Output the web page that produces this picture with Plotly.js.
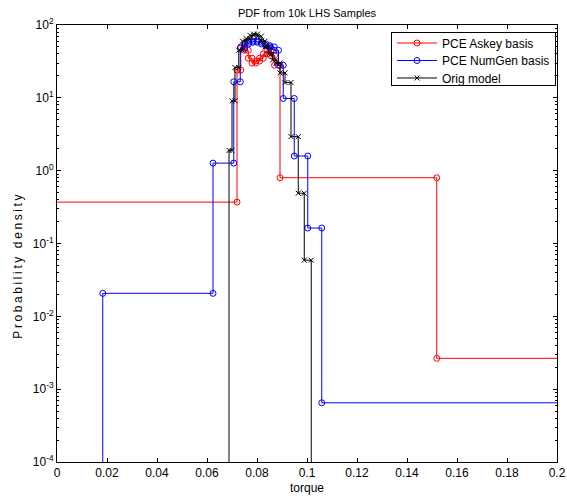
<!DOCTYPE html>
<html>
<head>
<meta charset="utf-8">
<script src="https://cdn.plot.ly/plotly-3.0.1.min.js"></script>
<style>html,body{margin:0;padding:0;background:#fff;}#chart{width:567px;height:499px;}</style>
</head>
<body>
<div id="chart"></div>
<script>
// Histogram-style PDFs: bin edges and densities per series
var askeyEdges = [-0.02, 0.0720, 0.0735, 0.0750, 0.0765, 0.0780, 0.0795, 0.0810, 0.0825, 0.0840, 0.0855, 0.0870, 0.0892, 0.1519, 0.25];
var askeyDens  = [0.37, 24, 50, 45, 35, 30, 32, 35, 40, 45, 38, 28, 0.80, 0.00265];

var numgenEdges = [-0.02, 0.0183, 0.0624, 0.0707, 0.0733, 0.0750, 0.0767, 0.0784, 0.0801, 0.0818, 0.0835, 0.0852, 0.0869, 0.0886, 0.0905, 0.0949, 0.1003, 0.1059, 0.25];
var numgenDens  = [1e-6, 0.0207, 1.27, 16.6, 48, 55, 58, 60, 58, 55, 52, 50, 45, 28, 9.8, 1.59, 0.163, 0.00065];

var origEdges = [-0.02, 0.0688, 0.0700, 0.0712, 0.0727, 0.0742, 0.0757, 0.0772, 0.0787, 0.0802, 0.0817, 0.0832, 0.0847, 0.0862, 0.0877, 0.0892, 0.0912, 0.0936, 0.0965, 0.0989, 0.1017, 0.25];
var origDens  = [1e-6, 1.9, 9.1, 26, 45, 60, 65, 72, 75, 70, 60, 50, 40, 33, 30, 22, 16.2, 2.93, 0.49, 0.059, 1e-6];

var xTicks = [0, 0.02, 0.04, 0.06, 0.08, 0.1, 0.12, 0.14, 0.16, 0.18, 0.2];
var xTickText = ['0', '0.02', '0.04', '0.06', '0.08', '0.1', '0.12', '0.14', '0.16', '0.18', '0.2'];
var yExponents = [-4, -3, -2, -1, 0, 1, 2];

var yTicks = yExponents.map(function (e) { return Math.pow(10, e); });
var yTickText = yExponents.map(function (e) { return '10<sup>' + e + '</sup>'; });
var yMinor = [];
for (var e = -4; e < 2; e++) {
  for (var k = 2; k <= 9; k++) yMinor.push(k * Math.pow(10, e));
}

function steps(edges, dens) {
  var x = [], y = [];
  for (var i = 0; i < dens.length; i++) {
    x.push(edges[i], edges[i + 1]);
    y.push(dens[i], dens[i]);
  }
  return {x: x, y: y};
}

var a = steps(askeyEdges, askeyDens);
var n = steps(numgenEdges, numgenDens);
var o = steps(origEdges, origDens);

var traces = [
  {x: a.x, y: a.y, name: 'PCE Askey basis', type: 'scatter', mode: 'lines+markers',
   line: {color: '#ff0000', width: 1}, marker: {symbol: 'circle-open', size: 6, color: '#ff0000', line: {width: 1}}},
  {x: n.x, y: n.y, name: 'PCE NumGen basis', type: 'scatter', mode: 'lines+markers',
   line: {color: '#0000ff', width: 1}, marker: {symbol: 'circle-open', size: 6, color: '#0000ff', line: {width: 1}}},
  {x: o.x, y: o.y, name: 'Orig model', type: 'scatter', mode: 'lines+markers',
   line: {color: '#000000', width: 1}, marker: {symbol: 'x-thin-open', size: 5, color: '#000000', line: {width: 1, color: '#000000'}}}
];

var fam = 'Liberation Sans, Arial, sans-serif';
var font = {family: fam, size: 12, color: '#000'};

var layout = {
  width: 567, height: 499,
  margin: {l: 57, r: 10, t: 25, b: 37, pad: 0},
  paper_bgcolor: '#fff', plot_bgcolor: '#fff',
  font: font,
  showlegend: true,
  title: {text: 'PDF from 10k LHS Samples', font: {family: fam, size: 11, color: '#000'}, x: 0.5, xanchor: 'center', xref: 'paper', y: 0.974, yanchor: 'middle'},
  xaxis: {
    range: [0, 0.2], tickmode: 'array', tickvals: xTicks, ticktext: xTickText,
    ticks: 'inside', ticklen: 4, tickcolor: '#000', showline: true, linecolor: '#000', linewidth: 1,
    mirror: 'ticks', showgrid: false, zeroline: false,
    title: {text: 'torque', font: font, standoff: 4},
    tickfont: font
  },
  yaxis: {
    type: 'log', range: [-4, 2], tickmode: 'array', tickvals: yTicks, ticktext: yTickText,
    ticks: 'inside', ticklen: 4, tickcolor: '#000', showline: true, linecolor: '#000', linewidth: 1,
    mirror: 'ticks', showgrid: false, zeroline: false,
    minor: {tickmode: 'array', tickvals: yMinor, ticks: 'inside', ticklen: 2, tickcolor: '#000', showgrid: false},
    tickfont: font
  },
  annotations: [{
    text: 'Probability density', textangle: -90, showarrow: false,
    xref: 'paper', yref: 'paper', x: -0.078, y: 0.4485, xanchor: 'center', yanchor: 'middle',
    font: font
  }],
  legend: {
    x: 0.998, xanchor: 'right', y: 0.984, yanchor: 'top',
    bgcolor: '#fff', bordercolor: '#000', borderwidth: 1,
    font: font, tracegroupgap: 0, itemwidth: 40
  }
};

Plotly.newPlot('chart', traces, layout, {displayModeBar: false, staticPlot: true}).then(function (gd) {
  // letter-spaced rotated label, as in the reference
  var ann = gd.querySelector('.annotation-text');
  if (ann) ann.style.letterSpacing = '2.6px';
  // tighter legend rows
  var items = gd.querySelectorAll('.legend .traces');
  if (items.length) {
    var m0 = /translate\(\s*([-\d.]+)[ ,]+([-\d.]+)\s*\)/.exec(items[0].getAttribute('transform') || '');
    if (m0) {
      var x0 = parseFloat(m0[1]), y0 = parseFloat(m0[2]) - 4.5;
      items.forEach(function (g, i) {
        g.setAttribute('transform', 'translate(' + x0 + ',' + (y0 + i * 17.5) + ')');
      });
      var bg = gd.querySelector('.legend rect.bg');
      if (bg) bg.setAttribute('height', 53);
    }
  }
});
</script>
</body>
</html>
